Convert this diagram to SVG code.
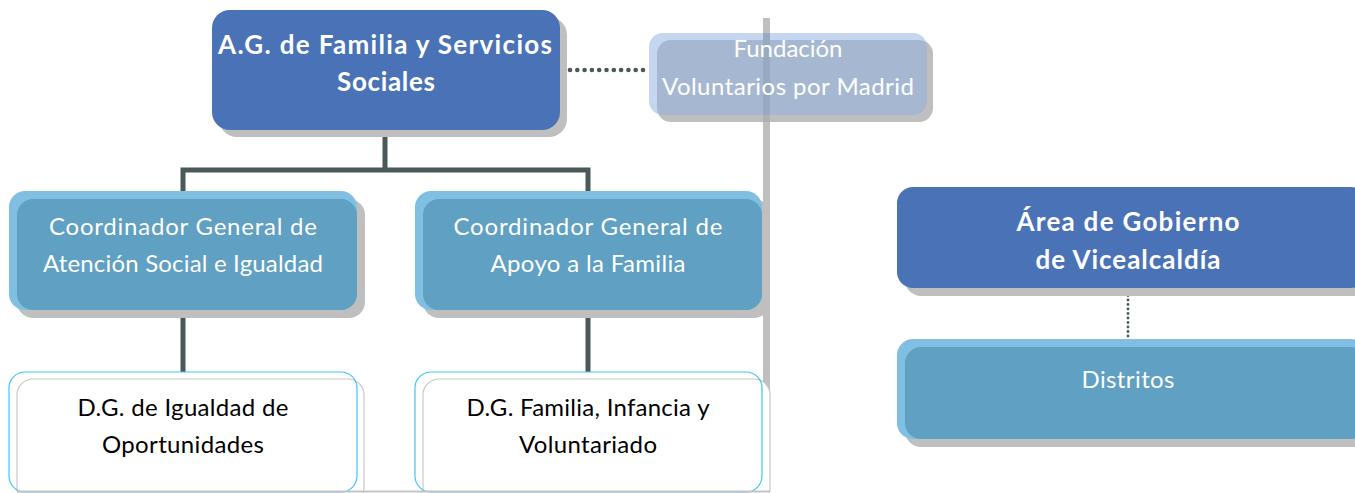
<svg xmlns="http://www.w3.org/2000/svg" width="1355" height="493" viewBox="0 0 1355 493">
<style>
.sh{fill:#BFBFBF}
.blue{fill:#4A72B6}
.lt{fill:#80BFE1}
.dk{fill:#60A0C2}
.t{font-family:Lato,"Open Sans",sans-serif;font-size:24px;text-anchor:middle}
.w{fill:#FFFFFF}
.b{font-weight:bold;font-size:26px}
.k{fill:#000000}
.conn{stroke:#4A585A;stroke-width:5;fill:none}
.dot{stroke:#4A585A;stroke-width:4.6;stroke-linecap:round;stroke-dasharray:0 7.3;fill:none}
.dot2{stroke:#4A585A;stroke-width:2.8;stroke-linecap:round;stroke-dasharray:0 4.5;fill:none}
</style>
<rect width="1355" height="493" fill="#FFFFFF"/>
<g id="separator">
<rect x="763" y="18" width="7" height="475" fill="#BFBFBF"/>
</g>
<g id="connectors">
<path class="conn" d="M385 130 V170 M183 170 H588 M183 167.5 V191 M588 167.5 V191 M183 310 V372 M588 310 V372"/>
<path class="dot" d="M570 70 H646"/>
<path class="dot2" d="M1128 291 V339"/>
</g>
<g id="ag-familia">
<rect class="sh" x="219" y="17" width="348" height="120" rx="18"/>
<rect class="blue" x="212" y="10" width="348" height="120" rx="18"/>
<text class="t w b" x="385" y="54" textLength="334">A.G. de Familia y Servicios</text>
<text class="t w b" x="386" y="91" textLength="98">Sociales</text>
</g>
<g id="fundacion">
<rect class="sh" x="657" y="40" width="276" height="82" rx="14"/>
<rect x="649" y="33" width="278" height="82" rx="14" fill="#8FB3E3" fill-opacity="0.52"/>
<rect x="763" y="33" width="7" height="89" fill="#1E2E4A" fill-opacity="0.1"/>
<text class="t w" x="788" y="57" font-size="22" textLength="109">Fundación</text>
<text class="t w" x="788" y="95" font-size="23" textLength="252">Voluntarios por Madrid</text>
</g>
<g id="coord-atencion">
<rect class="sh" x="17" y="199" width="348" height="119" rx="16"/>
<rect class="lt" x="9" y="191" width="348" height="119" rx="16"/>
<rect class="dk" x="17" y="199" width="340" height="111" rx="16"/>
<text class="t w" x="183" y="235" textLength="268">Coordinador General de</text>
<text class="t w" x="183" y="272" textLength="280">Atención Social e Igualdad</text>
</g>
<g id="coord-familia">
<rect class="sh" x="423" y="199" width="347" height="119" rx="16"/>
<rect class="lt" x="415" y="191" width="347" height="119" rx="16"/>
<rect class="dk" x="423" y="199" width="339" height="111" rx="16"/>
<text class="t w" x="588" y="235" textLength="269">Coordinador General de</text>
<text class="t w" x="588" y="272" textLength="195">Apoyo a la Familia</text>
</g>
<g id="dg-igualdad">
<rect x="17" y="379" width="347" height="125" rx="16" fill="#FFFFFF" stroke="#C8C8C8" stroke-width="1.2"/>
<rect x="9" y="372" width="348" height="120" rx="16" fill="none" stroke="#3FC8EE" stroke-width="1.2"/>
<text class="t k" x="183" y="416" textLength="211">D.G. de Igualdad de</text>
<text class="t k" x="183" y="453" textLength="162">Oportunidades</text>
</g>
<g id="dg-familia">
<rect x="423" y="379" width="347" height="125" rx="16" fill="#FFFFFF" stroke="#C8C8C8" stroke-width="1.2"/>
<rect x="415" y="372" width="347" height="120" rx="16" fill="none" stroke="#3FC8EE" stroke-width="1.2"/>
<text class="t k" x="588" y="416" textLength="243">D.G. Familia, Infancia y</text>
<text class="t k" x="588" y="453" textLength="138">Voluntariado</text>
</g>
<g id="separator-bottom">
<rect x="17" y="490.5" width="753" height="2" fill="#C4C4C4"/>
</g>
<g id="area-vicealcaldia">
<rect class="sh" x="905" y="195" width="470" height="101" rx="16"/>
<rect class="blue" x="897" y="187" width="470" height="101" rx="16"/>
<text class="t w b" x="1128" y="231" textLength="223">Área de Gobierno</text>
<text class="t w b" x="1128" y="269" textLength="185">de Vicealcaldía</text>
</g>
<g id="distritos">
<rect class="sh" x="905" y="347" width="470" height="100" rx="16"/>
<rect class="lt" x="897" y="339" width="470" height="100" rx="16"/>
<rect class="dk" x="905" y="347" width="462" height="92" rx="16"/>
<text class="t w" x="1128" y="388" textLength="93">Distritos</text>
</g>
</svg>
